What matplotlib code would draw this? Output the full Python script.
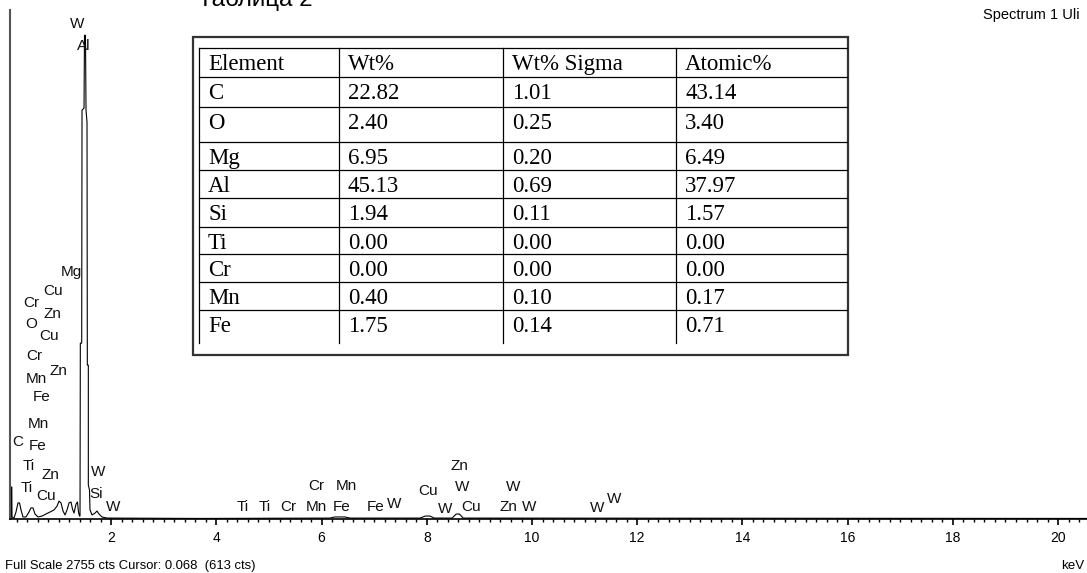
import matplotlib.pyplot as plt
from matplotlib.ticker import MultipleLocator
from matplotlib.patches import Rectangle

plt.rcParams['font.family'] = 'Liberation Sans'

# EDS spectrum trace: energy (keV) and counts
energy = [0.080, 0.095, 0.101, 0.110, 0.114, 0.152, 0.190, 0.228, 0.257, 0.285,
          0.323, 0.380, 0.437, 0.475, 0.513, 0.551, 0.608, 0.684, 0.760, 0.837,
          0.913, 0.970, 1.008, 1.046, 1.084, 1.122, 1.160, 1.198, 1.236, 1.264,
          1.293, 1.331, 1.359, 1.378, 1.397, 1.407, 1.413, 1.439, 1.445, 1.483,
          1.492, 1.511, 1.521, 1.540, 1.546, 1.565, 1.565, 1.587, 1.597, 1.635,
          1.692, 1.730, 1.768, 1.825, 1.920, 3.690, 6.160, 6.250, 6.440, 6.540,
          7.870, 7.970, 8.060, 8.140, 8.480, 8.560, 8.620, 8.690, 20.55]
counts = [0, 0, 173, 173, 11, 5, 38, 87, 87, 49,
          11, 11, 38, 60, 60, 27, 11, 16, 27, 38,
          49, 70, 97, 87, 43, 22, 49, 87, 92, 54,
          32, 81, 92, 38, 16, 16, 952, 952, 2213, 2224,
          2618, 2618, 2213, 2148, 833, 833, 184, 157, 49, 22,
          32, 43, 27, 11, 5, 3, 5, 11, 11, 5,
          5, 16, 16, 5, 5, 27, 27, 5, 3]

# peak labels: (element, keV, counts)
peak_labels = [
    ("W", 1.35, 2678), ("Al", 1.483, 2559), ("Mg", 1.236, 1336),
    ("Cu", 0.894, 1233), ("Cr", 0.475, 1169), ("Zn", 0.875, 1109),
    ("O", 0.475, 1055), ("Cu", 0.817, 990), ("Cr", 0.532, 882),
    ("Zn", 0.989, 801), ("Mn", 0.570, 757), ("Fe", 0.684, 660),
    ("Mn", 0.608, 514), ("C", 0.228, 417), ("Fe", 0.608, 395),
    ("Ti", 0.437, 287), ("Zn", 0.837, 238), ("Ti", 0.399, 168),
    ("Cu", 0.760, 124), ("W", 1.749, 254), ("Si", 1.711, 135),
    ("W", 2.034, 65), ("Ti", 4.506, 65), ("Ti", 4.924, 65),
    ("Cr", 5.361, 65), ("Mn", 5.894, 65), ("Fe", 6.388, 65),
    ("Fe", 7.034, 65), ("W", 7.376, 81), ("Cr", 5.894, 179),
    ("Mn", 6.464, 179), ("Cu", 8.023, 151), ("Zn", 8.612, 287),
    ("W", 8.669, 173), ("W", 8.346, 54), ("Cu", 8.840, 65),
    ("W", 9.639, 173), ("Zn", 9.544, 65), ("W", 9.943, 65),
    ("W", 11.236, 60), ("W", 11.559, 108),
]

full_scale = 2755

# quantification table
headers = ["Element", "Wt%", "Wt% Sigma", "Atomic%"]
elements = ["C", "O", "Mg", "Al", "Si", "Ti", "Cr", "Mn", "Fe"]
wt = ["22.82", "2.40", "6.95", "45.13", "1.94", "0.00", "0.00", "0.40", "1.75"]
wt_sigma = ["1.01", "0.25", "0.20", "0.69", "0.11", "0.00", "0.00", "0.10", "0.14"]
atomic = ["43.14", "3.40", "6.49", "37.97", "1.57", "0.00", "0.00", "0.17", "0.71"]

W, H = 1087, 573
fig = plt.figure(figsize=(W / 100, H / 100), dpi=100)

# spectrum panel
ax = fig.add_axes([10 / W, 54 / H, 1077 / W, 509 / H])
ax.plot(energy, counts, color='black', lw=0.8)
ax.set_xlim(0.076, 20.55)
ax.set_ylim(0, full_scale)
for side in ['top', 'right']:
    ax.spines[side].set_visible(False)
ax.spines['left'].set_color('#555555')
ax.spines['left'].set_linewidth(1.5)
ax.spines['bottom'].set_linewidth(1.2)
ax.set_yticks([])
ax.xaxis.set_major_locator(MultipleLocator(2))
ax.xaxis.set_minor_locator(MultipleLocator(0.2))
ax.tick_params(axis='x', which='major', length=4.5, width=1.2, labelsize=10, pad=4.5)
ax.tick_params(axis='x', which='minor', length=2.2, width=1.0)

for name, e, c in peak_labels:
    ax.text(e, c, name, fontsize=11, ha='center', va='center', color='#111111')

fig.text(5 / W, 1 - 566 / H, "Full Scale 2755 cts Cursor: 0.068  (613 cts)",
         fontsize=9.4, va='center', ha='left')
fig.text(1084 / W, 1 - 566 / H, "keV", fontsize=9.6, va='center', ha='right')
fig.text(1080 / W, 1 - 15 / H, "Spectrum 1 Uli", fontsize=10.5, va='center', ha='right')
fig.text(198 / W, 1 - 6 / H, "Таблица 2", fontsize=17.5, va='baseline', ha='left')

# table overlay in pixel coordinates
tb = fig.add_axes([0, 0, 1, 1])
tb.set_xlim(0, W)
tb.set_ylim(H, 0)
tb.axis('off')
tb.add_patch(Rectangle((193, 37), 655, 318, facecolor='white',
                       edgecolor='#333333', lw=1.6))

col_x = [199, 339, 503, 676]
right_x = 847
row_y = [48, 77, 107, 142, 170, 198, 227, 254, 282, 310, 343]

for y in row_y[:-1]:
    tb.plot([col_x[0], right_x], [y, y], color='black', lw=0.9)
for x in col_x:
    tb.plot([x, x], [row_y[0], row_y[-1]], color='black', lw=0.9)

rows = [headers] + [list(r) for r in zip(elements, wt, wt_sigma, atomic)]
for i, row in enumerate(rows):
    for j, val in enumerate(row):
        tb.text(col_x[j] + 9, row_y[i] + 22, val, family='Liberation Serif',
                fontsize=16.5, va='baseline', ha='left')

fig.savefig('out.png', dpi=100)
